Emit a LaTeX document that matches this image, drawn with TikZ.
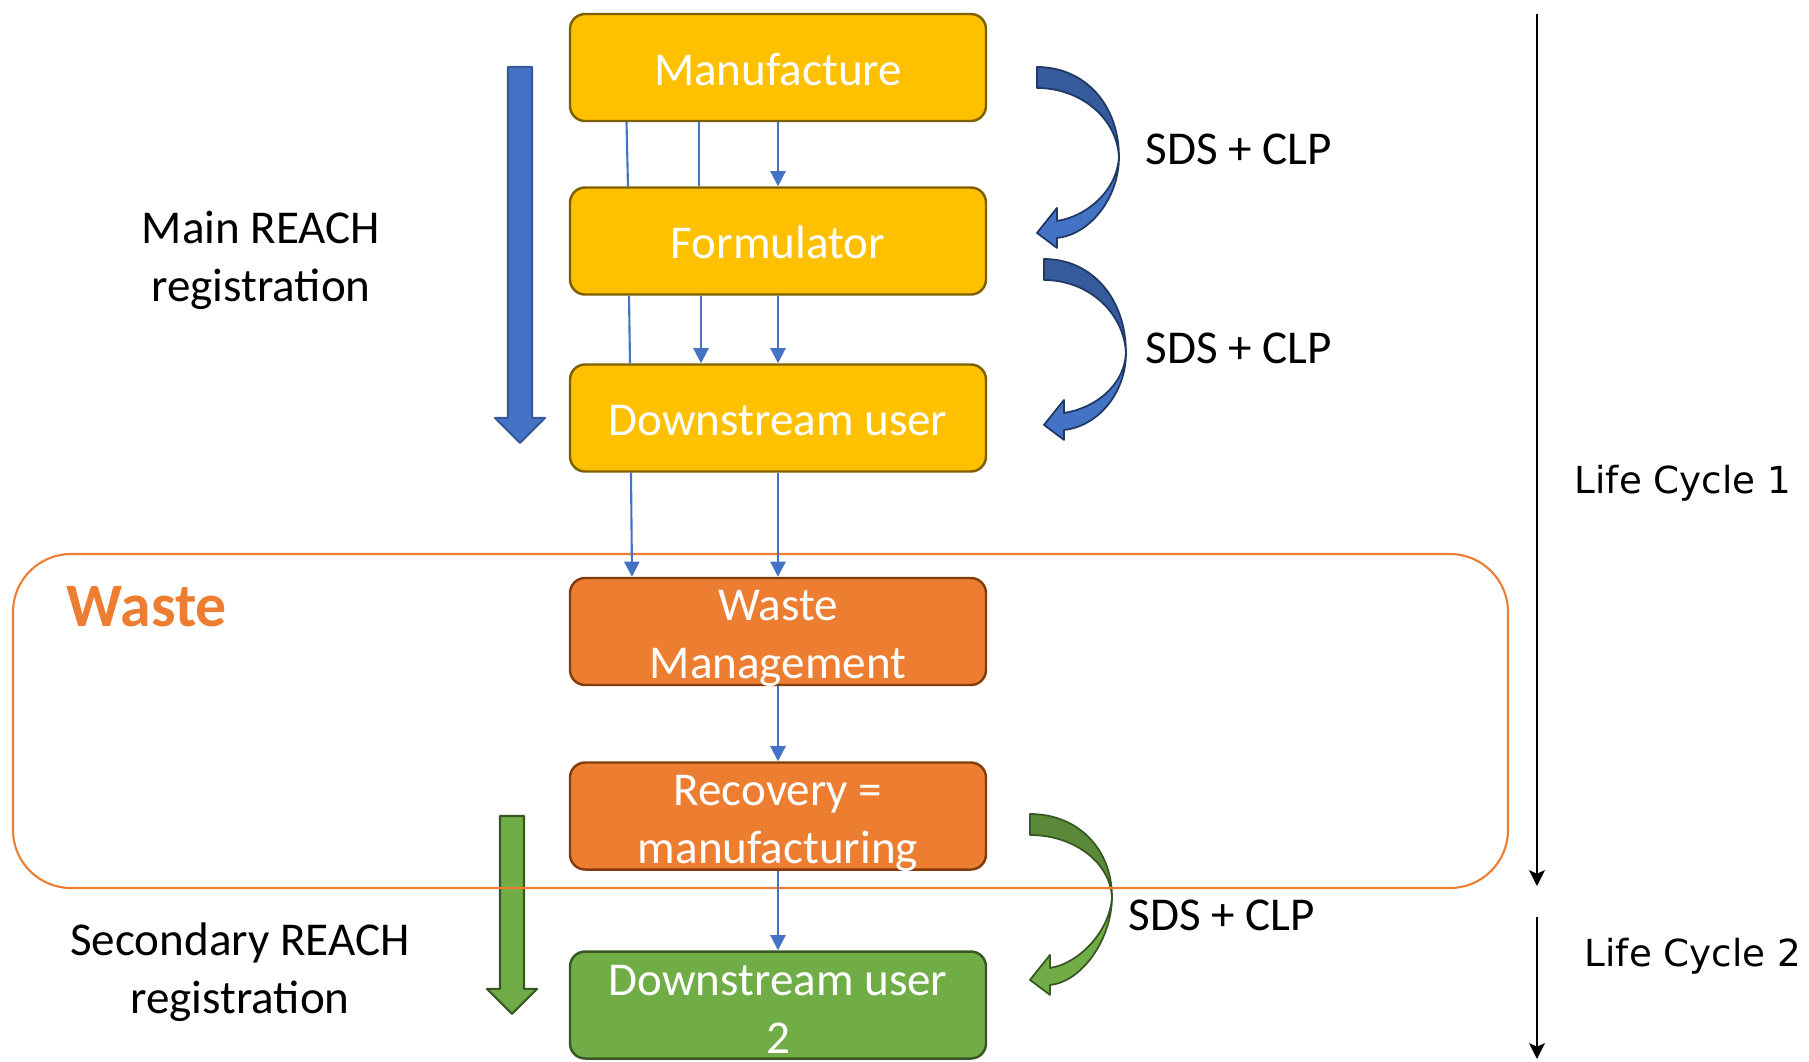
\documentclass[tikz,border=0pt]{standalone}
\usepackage{fontspec}
\setmainfont{Carlito}
\newfontfamily\lcfont{DejaVu Sans}
\usetikzlibrary{arrows.meta}
\definecolor{cYellow}{HTML}{FFC000}
\definecolor{cYellowDark}{HTML}{7F6000}
\definecolor{cOrange}{HTML}{ED7D31}
\definecolor{cOrangeDark}{HTML}{843C0C}
\definecolor{cGreen}{HTML}{70AD47}
\definecolor{cGreenMid}{HTML}{5A8A39}
\definecolor{cGreenDark}{HTML}{385723}
\definecolor{cBlue}{HTML}{4472C4}
\definecolor{cBlueMid}{HTML}{365B9D}
\definecolor{cBlueDark}{HTML}{203864}
\tikzset{
	box/.style={rectangle,rounded corners=4.3pt,minimum width=4.16cm,minimum height=1.07cm,inner sep=0pt,line width=0.7pt,text=white,align=center,font=\fontsize{13.4}{16.5}\selectfont},
	ybox/.style={box,text height=10pt,text depth=0pt,fill=cYellow,draw=cYellowDark},
	obox/.style={box,text height=27.7pt,text depth=0.9pt,fill=cOrange,draw=cOrangeDark},
	gbox/.style={box,text height=27.4pt,text depth=0pt,fill=cGreen,draw=cGreenDark},
	flow/.style={cBlue,line width=0.6pt},
	lbl/.style={align=center,inner sep=0pt,font=\fontsize{13.4}{16.5}\selectfont},
	lclbl/.style={font=\lcfont\fontsize{10.6}{13}\selectfont},
}
\begin{document}
\begin{tikzpicture}[>={Triangle[length=4.3pt,width=4.3pt]},line join=round]
	\useasboundingbox (0,0) rectangle (18.09,-10.61);
	% straight block arrow: x, y, head start, tip, fill, draw
	\newcommand{\downblock}[6]{
		\begin{scope}[shift={(#1,#2)},x=0.01cm,y=-0.01cm]
			\filldraw[fill=#5,draw=#6,line width=0.6pt] (-12,0) -- (12,0) -- (12,#3) -- (25,#3) -- (0,#4) -- (-25,#3) -- (-12,#3) -- cycle;
		\end{scope}
	}
	% curved block arrow: x, y, pinch, back fill, front fill, outline
	\newcommand{\bendarrow}[6]{
		\begin{scope}[shift={(#1,#2)},x=0.01cm,y=-0.01cm,line width=0.5pt]
			\filldraw[fill=#4,draw=#6] (0,0) .. controls (48,0) and (82,{0.42*#3}) .. (82,#3)
				.. controls (80,{0.45*#3+11}) and (44,21) .. (0,21) -- cycle;
			\filldraw[fill=#5,draw=#6] (82,#3) .. controls (82,{#3+42}) and (52,168) .. (20,171)
				-- (20,181) -- (0,166) -- (20,141) -- (20,154)
				.. controls (48,150) and (80,{#3+35}) .. (82,#3) -- cycle;
		\end{scope}
	}
	% Boxes
	\node[ybox] (man) at (7.78,-0.675) {Manufacture};
	\node[ybox] (form) at (7.78,-2.41) {Formulator};
	\node[ybox] (du) at (7.78,-4.18) {Downstream user};
	\node[obox] (wm) at (7.78,-6.315) {Waste\\Management};
	\node[obox] (rec) at (7.78,-8.16) {Recovery =\\manufacturing};
	\node[gbox] (du2) at (7.78,-10.05) {Downstream user\\2};
	% Block arrows
	\downblock{5.20}{-0.67}{351}{376}{cBlue}{cBlueMid}
	\downblock{5.12}{-8.16}{173}{198}{cGreen}{cGreenDark}
	\bendarrow{10.37}{-0.67}{90}{cBlueMid}{cBlue}{cBlueDark}
	\bendarrow{10.44}{-2.59}{94}{cBlueMid}{cBlue}{cBlueDark}
	\bendarrow{10.30}{-8.14}{83}{cGreenMid}{cGreen}{cGreenDark}
	% Waste zone
	\draw[cOrange,line width=0.6pt,rounded corners=0.58cm] (0.13,-5.54) rectangle (15.08,-8.88);
	\node[anchor=base west,inner sep=0pt,text=cOrange,font=\fontsize{17.6}{20}\selectfont\bfseries] (wastelbl) at (0.66,-6.26) {Waste};
	% Flows
	\draw[flow] ([xshift=-1.515cm]man.south) -- ([xshift=-1.50cm]form.north);
	\draw[flow] ([xshift=-0.79cm]man.south) -- ([xshift=-0.79cm]form.north);
	\draw[flow,->] (man) -- (form);
	\draw[flow] ([xshift=-1.49cm]form.south) -- ([xshift=-1.48cm]du.north);
	\draw[flow,->] ([xshift=-0.77cm]form.south) -- ([xshift=-0.77cm]du.north);
	\draw[flow,->] (form) -- (du);
	\draw[flow,->] ([xshift=-1.47cm]du.south) -- ([xshift=-1.46cm]wm.north);
	\draw[flow,->] (du) -- (wm);
	\draw[flow,->] (wm) -- (rec);
	\draw[flow,->] (rec) -- (du2);
	% Labels
	\node[lbl] (mainreach) at (2.61,-2.60) {Main REACH\\registration};
	\node[lbl] (secreach) at (2.40,-9.72) {Secondary REACH\\registration};
	\node[lbl,anchor=base west] (sds1) at (11.45,-1.64) {SDS + CLP};
	\node[lbl,anchor=base west] (sds2) at (11.45,-3.63) {SDS + CLP};
	\node[lbl,anchor=base west] (sds3) at (11.28,-9.30) {SDS + CLP};
	% Life cycles
	\coordinate (lc1top) at (15.37,-0.14);
	\coordinate (lc1end) at (15.37,-8.86);
	\coordinate (lc2top) at (15.37,-9.17);
	\coordinate (lc2end) at (15.37,-10.59);
	\draw[line width=0.7pt,-{Stealth[length=4.5pt,width=4.5pt,inset=1pt]}] (lc1top) -- (lc1end);
	\draw[line width=0.7pt,-{Stealth[length=4.5pt,width=4.5pt,inset=1pt]}] (lc2top) -- (lc2end);
	\node[lclbl] (lc1) at (16.83,-4.83) {Life Cycle 1};
	\node[lclbl] (lc2) at (16.93,-9.56) {Life Cycle 2};
\end{tikzpicture}
\end{document}
